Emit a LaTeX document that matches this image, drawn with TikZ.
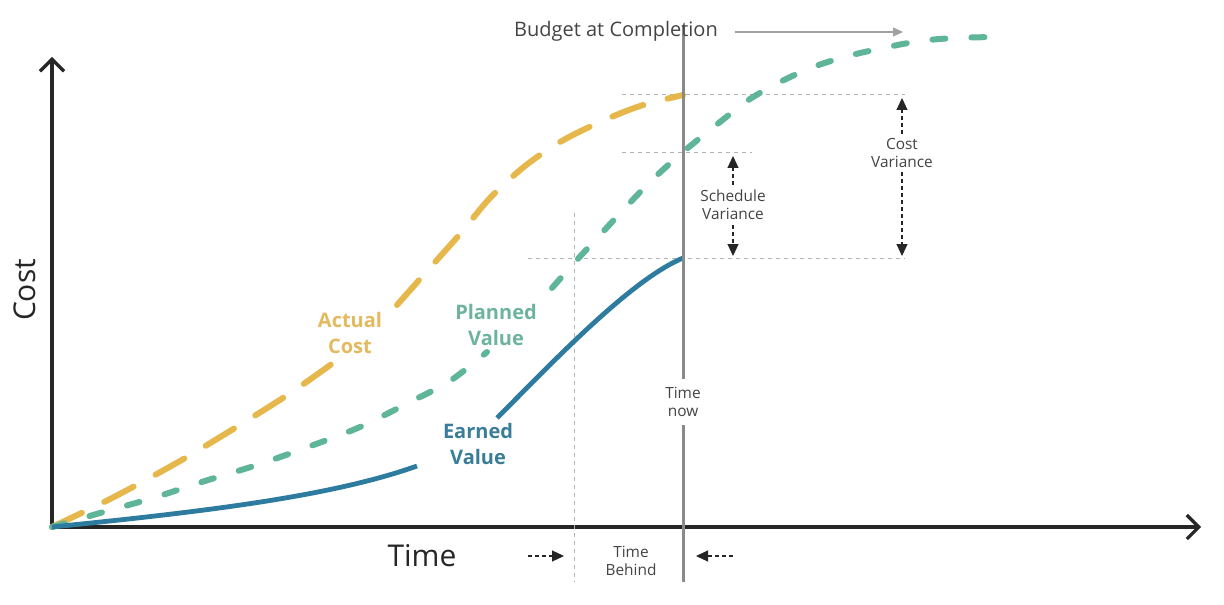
\documentclass[tikz,border=0pt]{standalone}
\usepackage{fontspec}
\setmainfont{Open Sans}
\usepackage{xcolor}
\usetikzlibrary{arrows.meta,positioning,calc}
\definecolor{axisdark}{HTML}{262626}
\definecolor{acost}{HTML}{E6B84C}
\definecolor{acosttxt}{HTML}{E3BA5E}
\definecolor{pvalue}{HTML}{5EB598}
\definecolor{pvaluetxt}{HTML}{6DB39D}
\definecolor{evalue}{HTML}{2D7CA0}
\definecolor{evaluetxt}{HTML}{3A7D9A}
\definecolor{nowgray}{HTML}{8A8A8A}
\definecolor{guidegray}{HTML}{B4B4B4}
\definecolor{txtgray}{HTML}{444444}

\begin{document}
\begin{tikzpicture}[x=0.5pt,y=-0.5pt,
    axis/.style={draw=axisdark, line width=1.6pt, -{Straight Barb[length=6pt,width=12pt,line width=1.6pt]}},
    guide/.style={draw=guidegray, line width=0.45pt, dash pattern=on 2pt off 2pt},
    vararrow/.style={draw=axisdark, line width=0.55pt, dash pattern=on 2pt off 1.5pt, -{Triangle[length=6pt,width=5.5pt]}},
    smalltxt/.style={font=\fontsize{7.7}{9.2}\selectfont, text=txtgray, align=center, fill=white, inner sep=2pt},
    curvelbl/.style={font=\fontsize{10}{13}\selectfont\bfseries, align=center, inner sep=0pt}]
    \useasboundingbox (0,0) rectangle (1224,604);
    % Axes
    \coordinate (O) at (52,527);
    \coordinate (ytop) at (52,57);
    \coordinate (xend) at (1201,527);
    \draw[axis] (O) -- (ytop);
    \draw[axis] (O) -- (xend);
    \node[rotate=90, font=\fontsize{15}{18}\selectfont, text=axisdark] (costlbl) at (25,290) {Cost};
    \node[font=\fontsize{15}{18}\selectfont, text=axisdark] (timelbl) at (422,556) {Time};
    % Guides
    \coordinate (acend) at (683,94);
    \coordinate (pvnow) at (683,152);
    \coordinate (evnow) at (683,258);
    \draw[guide] (622,94) -- (905,94);
    \draw[guide] (622,152) -- (752,152);
    \draw[guide] (528,258) -- (905,258);
    \draw[guide] (574,213) -- (574,582);
    % Curves
    \draw[acost, line width=3pt, line cap=round, dash pattern=on 16.5pt off 12.5pt]
        plot[smooth] coordinates {(52,527) (112,498) (180,461) (243,423) (292,392) (340,358)};
    \draw[acost, line width=3pt, line cap=round, dash pattern=on 16.5pt off 12.5pt]
        plot[smooth] coordinates {(397,305) (428,270) (460,234) (490,198) (525,166) (560,142) (600,122) (640,106) (683,95)};
    \draw[pvalue, line width=3pt, line cap=round, dash pattern=on 6.5pt off 13pt]
        plot[smooth] coordinates {(52,527) (100,513) (153,498) (205,481) (257,465) (308,447) (360,427) (410,402) (450,381) (487,352)};
    \draw[pvalue, line width=3pt, line cap=round, dash pattern=on 6.5pt off 13pt]
        plot[smooth] coordinates {(552,288) (575,262) (600,235) (625,208) (652,180) (683,152) (720,122) (750,99) (780,82) (813,67) (848,56) (883,48) (920,41) (955,38) (995,37)};
    \draw[evalue, line width=2.4pt] (O) .. controls (200,512) and (330,497) .. (417,466);
    \draw[evalue, line width=2.4pt] (497,418) .. controls (550,365) and (630,280) .. (evnow);
    \node[curvelbl, text=acosttxt] (aclbl) at (350,333) {Actual\\Cost};
    \node[curvelbl, text=pvaluetxt] (pvlbl) at (496,325) {Planned\\Value};
    \node[curvelbl, text=evaluetxt] (evlbl) at (478,444) {Earned\\Value};
    % Time now
    \coordinate (nowtop) at (683,25);
    \coordinate (nowbot) at (683,582);
    \draw[nowgray, line width=1.5pt] (nowtop) -- (nowbot);
    \node[smalltxt, inner sep=4pt] (timenow) at (683,402) {Time\\now};
    % Budget at Completion
    \node[font=\fontsize{10}{12}\selectfont, text=txtgray] (bac) at (616,31) {Budget at Completion};
    \coordinate (bacend) at (903,32);
    \draw[nowgray!80, line width=0.6pt, -{Triangle[length=5pt,width=4.5pt]}] ([xshift=5pt]bac.east |- bacend) -- (bacend);
    % Variances
    \node[smalltxt] (schedvar) at (733,205) {Schedule\\Variance};
    \node[smalltxt] (costvar) at (902,153) {Cost\\Variance};
    \coordinate (svtop) at (733,156);
    \coordinate (svbot) at (733,256);
    \coordinate (cvtop) at (902,98);
    \coordinate (cvbot) at (902,256);
    \draw[vararrow] (schedvar.north) -- (svtop);
    \draw[vararrow] (schedvar.south) -- (svbot);
    \draw[vararrow] (costvar.north) -- (cvtop);
    \draw[vararrow] (costvar.south) -- (cvbot);
    % Time behind
    \node[smalltxt] (timebehind) at (631,561) {Time\\Behind};
    \coordinate (tbleft) at (528,556);
    \coordinate (tbleftend) at (564,556);
    \coordinate (tbright) at (733,556);
    \coordinate (tbrightend) at (696,556);
    \draw[vararrow] (tbleft) -- (tbleftend);
    \draw[vararrow] (tbright) -- (tbrightend);
\end{tikzpicture}
\end{document}
